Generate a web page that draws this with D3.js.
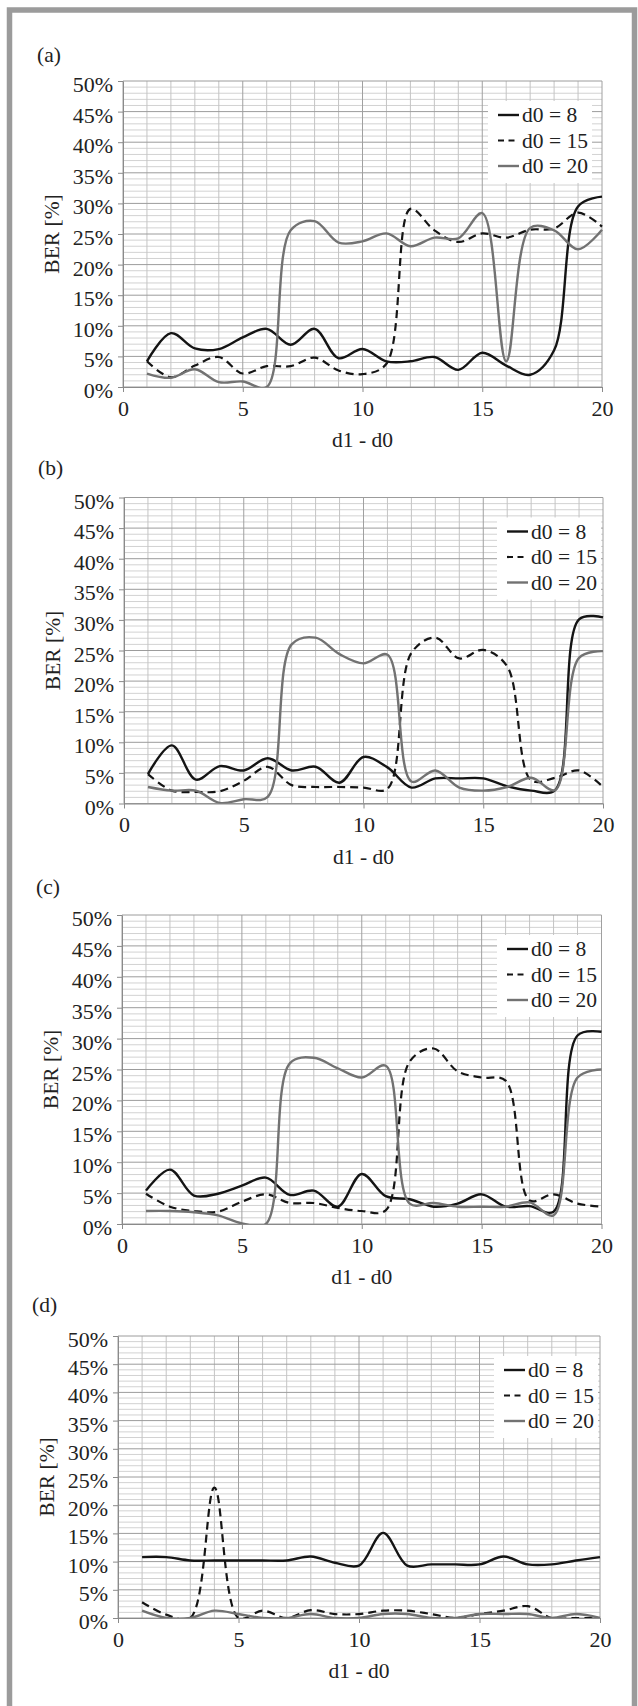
<!DOCTYPE html>
<html>
<head>
<meta charset="utf-8">
<script src="https://cdn.jsdelivr.net/npm/d3@7"></script>
<style>
  body { margin: 0; background: #fff; }
  svg text { font-family: "Liberation Serif", "Times New Roman", "DejaVu Serif", serif; fill: #222; }
</style>
</head>
<body>
<svg id="fig" width="638" height="1706" font-family="Liberation Serif, Times New Roman, serif"></svg>
<script>

// x values (d1 - d0) and ticks
var xValues = [1, 2, 3, 4, 5, 6, 7, 8, 9, 10, 11, 12, 13, 14, 15, 16, 17, 18, 19, 20];
var xTicks = [0, 5, 10, 15, 20];
var yTicks = [0, 5, 10, 15, 20, 25, 30, 35, 40, 45, 50];
var seriesNames = ['d0 = 8', 'd0 = 15', 'd0 = 20'];

// BER [%]
var a_d8  = [4.2, 8.8, 6.3, 6.2, 8.1, 9.5, 6.9, 9.5, 4.7, 6.2, 4.2, 4.2, 4.9, 2.8, 5.6, 3.5, 2.0, 6.0, 29.5, 31.1];
var a_d15 = [4.2, 1.6, 3.5, 4.9, 2.2, 3.4, 3.4, 4.8, 2.7, 2.1, 3.8, 29.1, 25.6, 23.7, 25.1, 24.4, 25.7, 25.9, 28.5, 26.2];
var a_d20 = [2.2, 1.5, 2.9, 0.8, 0.9, 0, 25.6, 27.1, 23.6, 23.8, 25.1, 23.0, 24.4, 24.3, 28.4, 4.2, 26.0, 25.6, 22.5, 25.7];

var b_d8  = [4.8, 9.5, 3.9, 6.1, 5.4, 7.4, 5.4, 6.0, 3.4, 7.6, 5.9, 2.6, 4.1, 4.1, 4.1, 2.8, 2.1, 2.2, 30.1, 30.4];
var b_d15 = [4.8, 2.1, 1.9, 2.0, 3.7, 6.0, 3.0, 2.7, 2.7, 2.6, 2.4, 24.6, 27.1, 23.7, 25.1, 22.4, 3.8, 4.2, 5.4, 2.7];
var b_d20 = [2.7, 2.1, 2.1, 0.1, 0.7, 1.1, 26.0, 27.1, 24.4, 22.9, 24.3, 3.6, 5.4, 2.6, 2.1, 2.7, 4.2, 2.2, 23.8, 24.9];

var c_d8  = [5.4, 8.8, 4.6, 4.9, 6.2, 7.5, 4.7, 5.4, 2.8, 8.1, 4.5, 4.0, 2.8, 3.3, 4.8, 2.8, 2.9, 2.0, 30.5, 31.1];
var c_d15 = [4.9, 2.8, 2.1, 2.0, 3.6, 4.8, 3.4, 3.4, 2.6, 2.1, 2.2, 26.3, 28.4, 24.7, 23.7, 23.2, 3.8, 4.8, 3.3, 2.8];
var c_d20 = [2.1, 2.1, 1.9, 1.4, 0.1, 0, 26.0, 26.9, 25.2, 23.7, 25.6, 3.3, 3.4, 2.8, 2.8, 2.8, 3.5, 1.4, 23.7, 25.0];

var d_d8  = [10.8, 10.8, 10.2, 10.2, 10.2, 10.2, 10.2, 10.9, 9.8, 9.3, 15.1, 9.3, 9.5, 9.5, 9.5, 10.9, 9.5, 9.5, 10.2, 10.8];
var d_d15 = [2.8, 0.6, 0, 23.1, 0, 1.3, 0, 1.4, 0.7, 0.7, 1.3, 1.3, 0.7, 0, 0.7, 1.3, 2.1, 0, 0, 0];
var d_d20 = [1.3, 0, 0, 1.3, 0.7, 0, 0, 0.7, 0, 0, 0.7, 0.7, 0, 0, 0.7, 0.7, 0.7, 0, 0.7, 0];

// panel boxes (page px)
var panels = [
  { tag: '(a)', series: [a_d8, a_d15, a_d20], left: 123, right: 602, top: 81,    bottom: 387,   labelY: 55,   legX: 522 },
  { tag: '(b)', series: [b_d8, b_d15, b_d20], left: 124, right: 603, top: 497.5, bottom: 803.5, labelY: 468,  legX: 531 },
  { tag: '(c)', series: [c_d8, c_d15, c_d20], left: 122, right: 601.5, top: 915, bottom: 1224,  labelY: 887,  legX: 531 },
  { tag: '(d)', series: [d_d8, d_d15, d_d20], left: 118, right: 600, top: 1336,  bottom: 1618,  labelY: 1305, legX: 528 }
];

var lineStyles = [
  { color: '#141414', width: 2.4, dash: null },
  { color: '#141414', width: 2.2, dash: '8,5' },
  { color: '#727272', width: 2.4, dash: null }
];

var FONT = '"Liberation Serif", "Times New Roman", serif';

var svg = d3.select('#fig');

// outer grey frame (bottom edge runs off the page)
svg.append('path')
  .attr('d', 'M9.5,1720V10H634.5V1720')
  .attr('fill', 'none')
  .attr('stroke', '#9b9b9b')
  .attr('stroke-width', 5.5);

panels.forEach(function(p, pi) {

  var x = d3.scaleLinear().domain([0, 20]).range([p.left, p.right]);
  var y = d3.scaleLinear().domain([0, 50]).range([p.bottom, p.top]);

  var g = svg.append('g');

  // minor grid
  g.selectAll('.hmin').data(y.ticks(50).filter(function(d) { return d % 5 != 0; }))
    .enter().append('line')
    .attr('x1', p.left).attr('x2', p.right)
    .attr('y1', function(d) { return y(d); }).attr('y2', function(d) { return y(d); })
    .attr('stroke', '#d2d2d2').attr('stroke-width', 1);

  g.selectAll('.vmin').data(x.ticks(20).filter(function(d) { return d % 5 != 0; }))
    .enter().append('line')
    .attr('y1', p.top).attr('y2', p.bottom)
    .attr('x1', function(d) { return x(d); }).attr('x2', function(d) { return x(d); })
    .attr('stroke', '#c4c4c4').attr('stroke-width', 1);

  // major grid
  g.selectAll('.hmaj').data(yTicks)
    .enter().append('line')
    .attr('x1', p.left).attr('x2', p.right)
    .attr('y1', function(d) { return y(d); }).attr('y2', function(d) { return y(d); })
    .attr('stroke', '#9c9c9c').attr('stroke-width', 1);

  g.selectAll('.vmaj').data(xTicks)
    .enter().append('line')
    .attr('y1', p.top).attr('y2', p.bottom)
    .attr('x1', function(d) { return x(d); }).attr('x2', function(d) { return x(d); })
    .attr('stroke', '#a0a0a0').attr('stroke-width', 1);

  // axes
  var yAxis = g.append('g')
    .attr('transform', 'translate(' + p.left + ',0)')
    .call(d3.axisLeft(y).tickValues(yTicks).tickFormat(function(d) { return d + '%'; })
      .tickSize(5).tickSizeOuter(0).tickPadding(5));

  var xAxis = g.append('g')
    .attr('transform', 'translate(0,' + p.bottom + ')')
    .call(d3.axisBottom(x).tickValues(xTicks).tickSize(5).tickSizeOuter(0).tickPadding(8));

  [yAxis, xAxis].forEach(function(ax) {
    ax.attr('font-family', FONT).attr('font-size', null);
    ax.select('.domain').attr('stroke', '#8a8a8a');
    ax.selectAll('.tick line').attr('stroke', '#8a8a8a');
    ax.selectAll('.tick text').style('font-size', '22px').style('font-family', FONT).attr('fill', '#222');
  });
  yAxis.selectAll('.tick text').attr('dy', '0.48em');

  // series
  svg.append('clipPath').attr('id', 'clip' + pi)
    .append('rect')
    .attr('x', p.left).attr('y', p.top - 2)
    .attr('width', p.right - p.left + 2).attr('height', p.bottom - p.top + 2);

  var line = d3.line()
    .x(function(d, i) { return x(xValues[i]); })
    .y(function(d) { return y(d); })
    .curve(d3.curveCatmullRom.alpha(0.5));

  var lines = g.append('g').attr('clip-path', 'url(#clip' + pi + ')');
  p.series.forEach(function(s, si) {
    lines.append('path')
      .attr('d', line(s))
      .attr('fill', 'none')
      .attr('stroke', lineStyles[si].color)
      .attr('stroke-width', lineStyles[si].width)
      .attr('stroke-dasharray', lineStyles[si].dash);
  });

  // legend
  var leg = g.append('g');
  leg.append('rect')
    .attr('x', p.legX - 34).attr('y', p.top + 20)
    .attr('width', 104).attr('height', 82)
    .attr('fill', '#fff');

  seriesNames.forEach(function(name, si) {
    var cy = p.top + 34 + si * 25.5;
    leg.append('line')
      .attr('x1', p.legX - 24).attr('x2', p.legX - 3)
      .attr('y1', cy).attr('y2', cy)
      .attr('stroke', lineStyles[si].color)
      .attr('stroke-width', lineStyles[si].width)
      .attr('stroke-dasharray', si == 1 ? '6,4.5' : null);
    leg.append('text')
      .attr('x', p.legX).attr('y', cy + 7)
      .style('font-family', FONT)
      .style('font-size', '21.5px')
      .text(name);
  });

  // labels
  g.append('text')
    .attr('x', p.left - 86).attr('y', p.labelY + 7)
    .style('font-family', FONT)
    .style('font-size', '21.5px')
    .text(p.tag);

  g.append('text')
    .attr('x', (p.left + p.right) / 2).attr('y', p.bottom + 60)
    .attr('text-anchor', 'middle')
    .style('font-family', FONT)
    .style('font-size', '21.5px')
    .text('d1 - d0');

  g.append('text')
    .attr('transform', 'translate(' + (p.left - 64) + ',' + ((p.top + p.bottom) / 2) + ') rotate(-90)')
    .attr('text-anchor', 'middle')
    .style('font-family', FONT)
    .style('font-size', '21.5px')
    .text('BER [%]');
});

</script>
</body>
</html>
